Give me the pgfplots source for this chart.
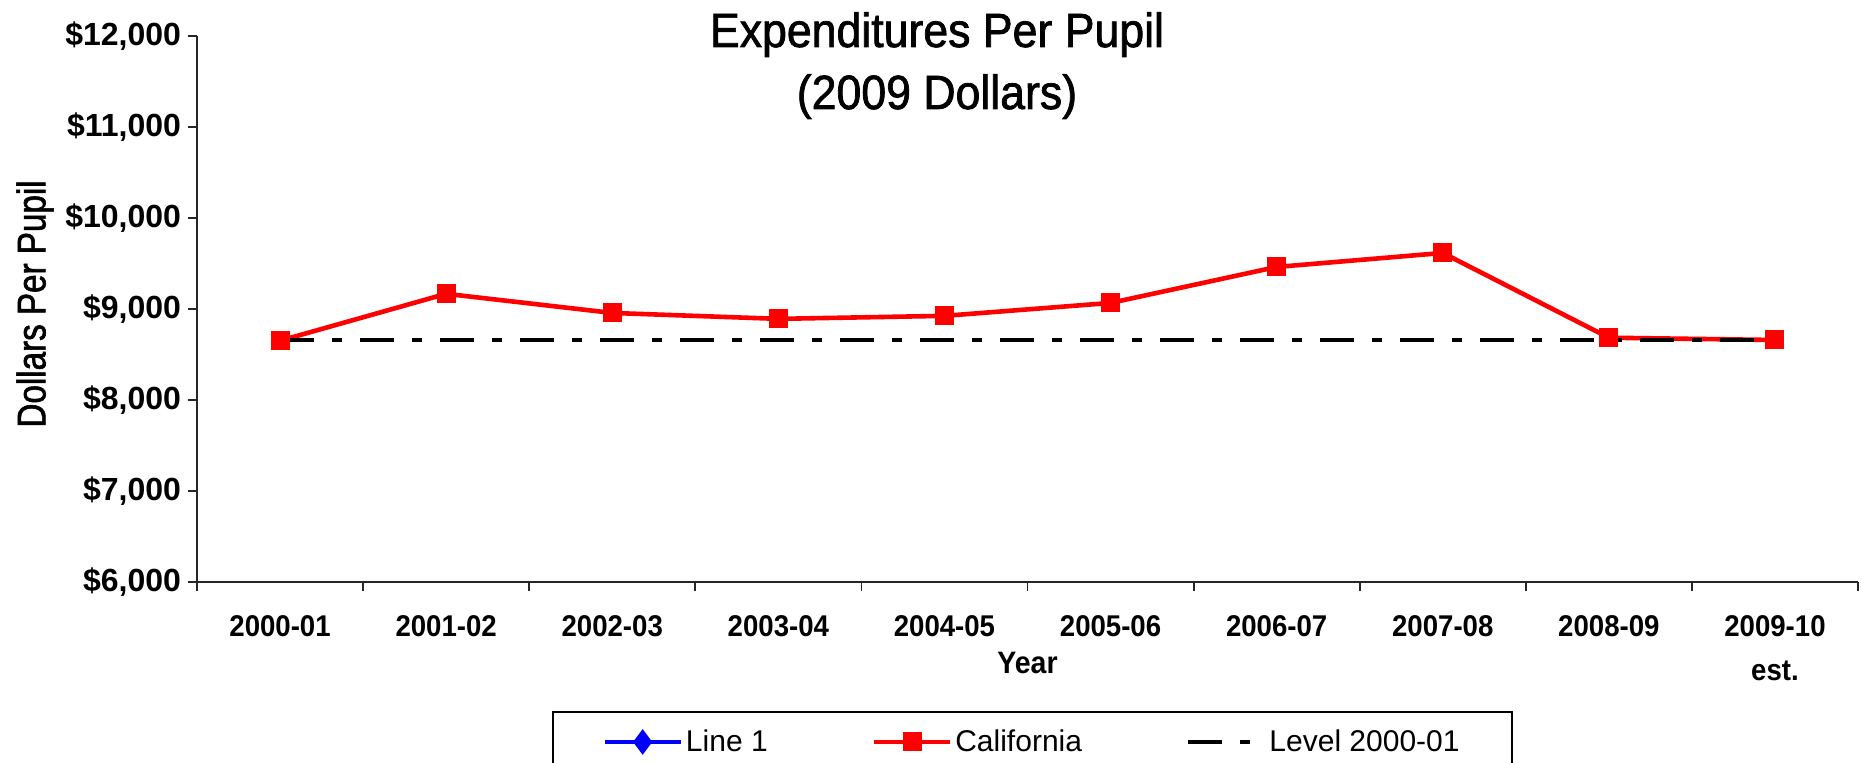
\documentclass[border=0pt]{standalone}
\usepackage{fontspec}
\setmainfont{Liberation Sans}
\newfontfamily\narrowfont{Liberation Sans}[FakeStretch=0.83, FakeBold=1.5]
\newfontfamily\titlefont{Liberation Sans}[FakeStretch=0.93, FakeBold=1.5]
\newfontfamily\xfont{Liberation Sans}[FakeStretch=0.92]
\usepackage{pgfplots}
\pgfplotsset{compat=1.18}
\begin{document}
\begin{tikzpicture}
\useasboundingbox (0,0) rectangle (931pt,-381.5pt);
\begin{axis}[
  at={(98.5pt,-291pt)}, anchor=south west,
  scale only axis, width=830.5pt, height=273.15pt,
  xmin=-0.5, xmax=9.5, ymin=6000, ymax=12000,
  axis lines=left,
  axis line style={-, line width=1pt, black!85},
  tick align=outside,
  major tick length=4.5pt, minor tick length=4.5pt,
  tick style={line width=0.9pt, black!85},
  ytick={6000,7000,...,12000},
  scaled y ticks=false,
  /pgf/number format/.cd, assume math mode=true, 1000 sep={,},
  /pgfplots/.cd,
  yticklabel={\$\pgfmathprintnumber{\tick}},
  yticklabel style={font=\fontsize{16}{19}\selectfont\bfseries},
  xtick={0,...,9},
  xticklabels={2000-01,2001-02,2002-03,2003-04,2004-05,2005-06,2006-07,2007-08,2008-09,{2009-10\\[4pt]est.}},
  xticklabel style={font=\xfont\fontsize{15}{18}\selectfont\bfseries, align=center, anchor=north, yshift=-8.5pt},
  major x tick style={draw=none},
  minor xtick={-0.5,0.5,...,9.5},
  xlabel={Year},
  xlabel style={font=\xfont\fontsize{15.5}{18}\selectfont\bfseries, at={(axis description cs:0.5,0)}, anchor=base, yshift=-45.5pt},
  ylabel={Dollars Per Pupil},
  ylabel style={font=\narrowfont\fontsize{20}{22}\selectfont, at={(axis description cs:-0.0975,0.509)}, anchor=center},
  legend columns=3,
  legend cell align=left,
  legend image code/.code={\draw[mark repeat=2,mark phase=2,#1] plot coordinates {(0pt,0pt) (19pt,0pt) (38pt,0pt)};},
  legend style={at={(0.503,-0.2361)}, anchor=north, draw=black, line width=1pt,
    font=\fontsize{15}{18}\selectfont, inner xsep=24.5pt, inner ysep=6.8pt,
    nodes={inner xsep=1.5pt, inner ysep=2pt},
    /tikz/every even column/.append style={column sep=50.5pt}},
]
\addlegendimage{color={rgb,255:red,0;green,0;blue,255}, line width=2.3pt, mark=diamond*, mark size=4.5pt, mark options={solid}}
\addlegendentry{Line 1}
\addplot[color={rgb,255:red,255;green,0;blue,0}, line width=2.3pt, mark=square*, mark size=3.6pt, mark options={solid}] coordinates {
  (0,8650) (1,9165) (2,8955) (3,8890) (4,8923) (5,9065) (6,9460) (7,9614) (8,8683) (9,8658)
};
\addlegendentry{California}
\addplot[black, line width=2.2pt, dash pattern=on 17pt off 9pt on 5pt off 9pt] coordinates {
  (0,8655) (9,8655)
};
\addlegendentry{Level 2000-01}
\end{axis}
\node[anchor=base, font=\titlefont\fontsize{24}{26}\selectfont] at (468.5pt,-23.5pt) {Expenditures Per Pupil};
\node[anchor=base, font=\titlefont\fontsize{24}{26}\selectfont] at (468.5pt,-54.5pt) {(2009 Dollars)};
\end{tikzpicture}
\end{document}
